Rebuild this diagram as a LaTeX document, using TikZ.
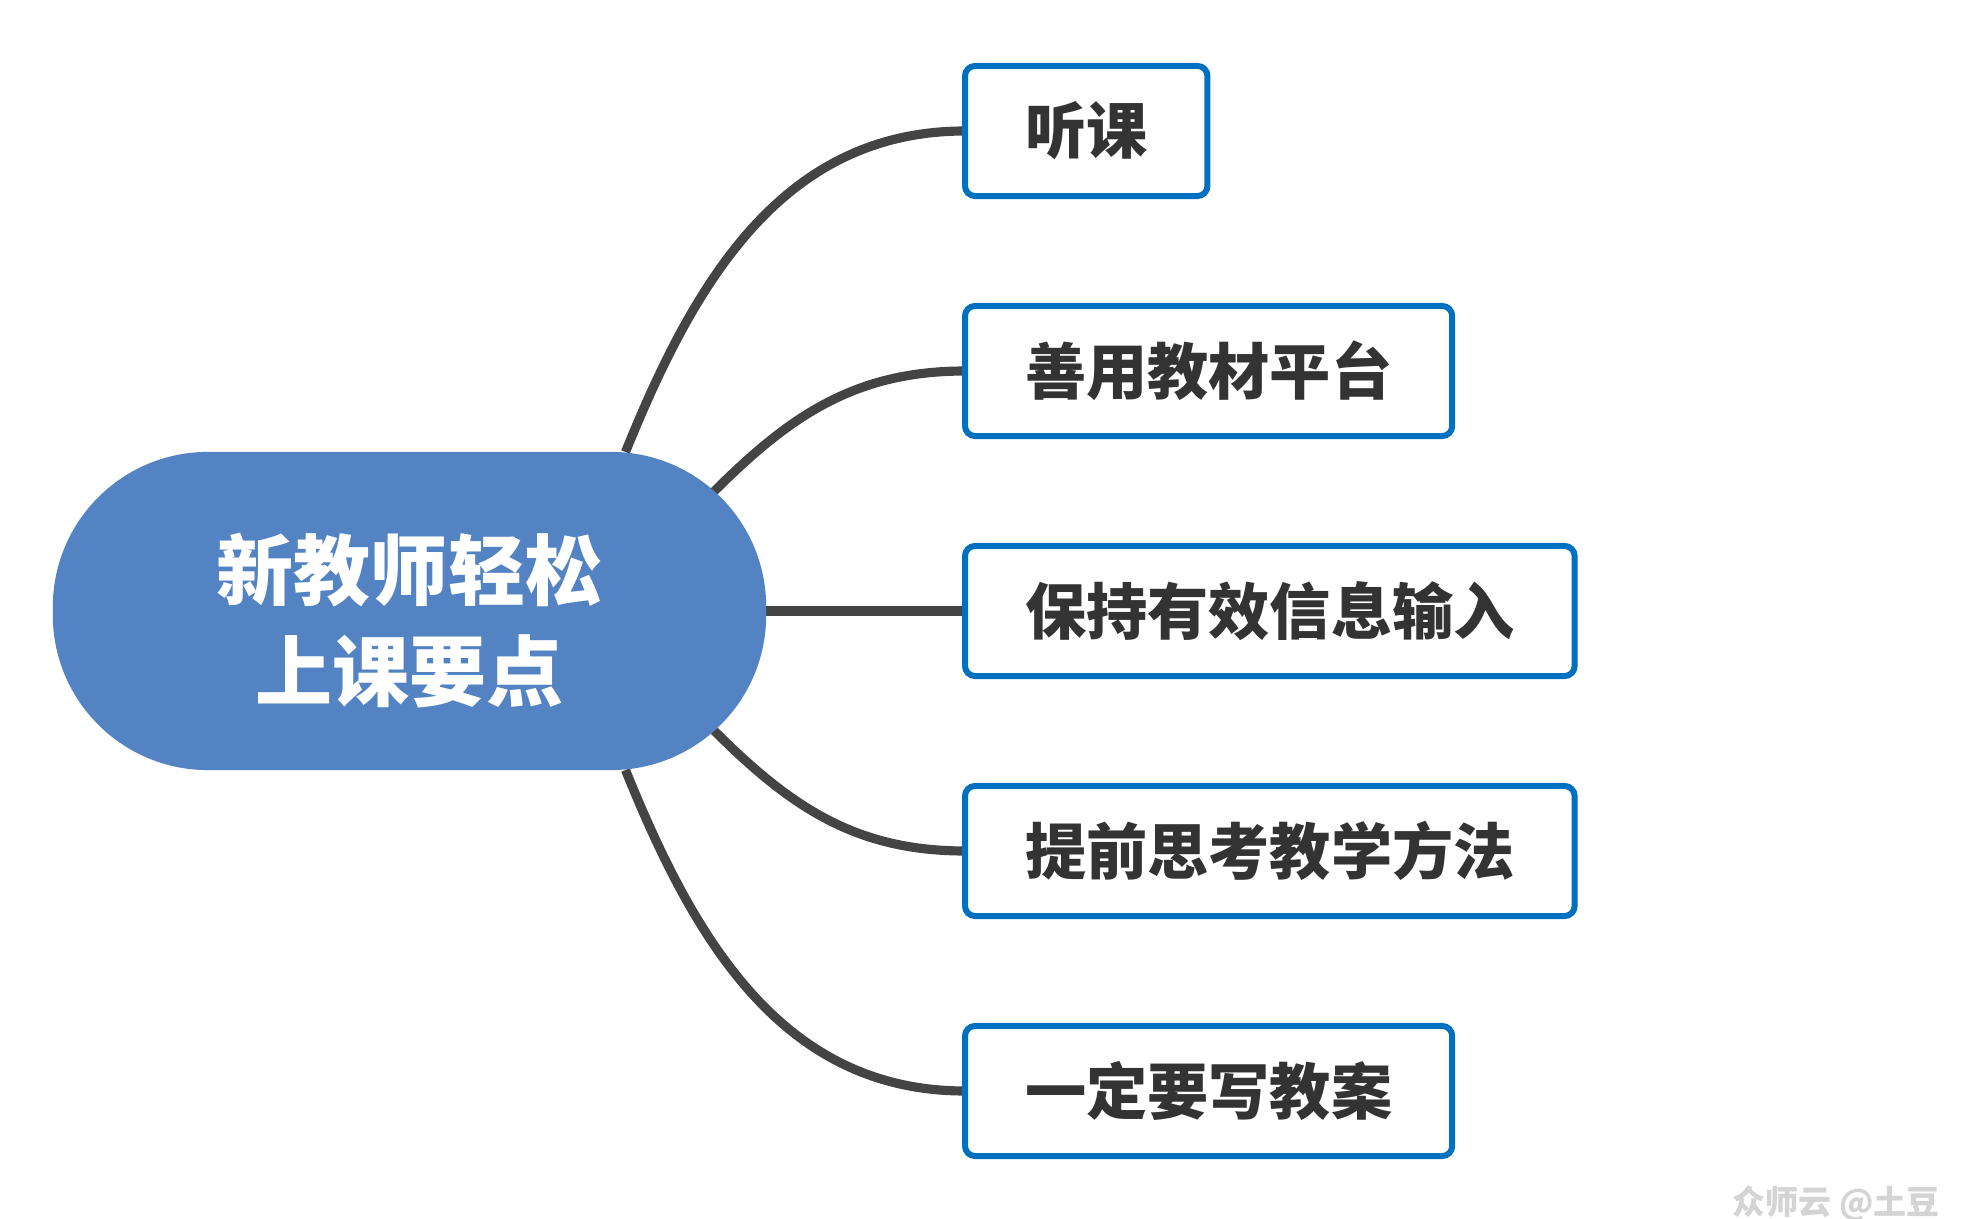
\documentclass[tikz,border=0pt]{standalone}
\usepackage{fontspec}
\newfontfamily\cjk{Noto Sans CJK SC}
\usepackage{tikz}
\usetikzlibrary{calc}
\usetikzlibrary{backgrounds}
\definecolor{hubblue}{RGB}{83,131,195}
\definecolor{boxblue}{RGB}{0,112,192}
\definecolor{linkgray}{RGB}{68,68,68}
\definecolor{textgray}{RGB}{51,51,51}
\definecolor{markgray}{RGB}{212,212,212}

\begin{document}
\begin{tikzpicture}[x=0.01cm, y=0.01cm,
  hub/.style={rectangle, rounded corners=1.55cm, fill=hubblue, text=white,
    minimum width=7.13cm, minimum height=3.18cm, align=center, inner sep=0pt,
    outer sep=0pt, font=\cjk\bfseries\fontsize{21.9}{28.7}\selectfont},
  tip/.style={rectangle, draw=boxblue, line width=1.7pt, rounded corners=0.1cm,
    fill=white, minimum height=1.3cm, inner xsep=0.6cm, outer sep=0pt,
    anchor=west, text=textgray, font=\cjk\bfseries\fontsize{17.4}{20}\selectfont},
  link/.style={draw=linkgray, line width=2.6pt}]
  \useasboundingbox (0,0) rectangle (1979,-1219);
  %--- Central topic
  \node[hub] (hub) at (409.5,-611) {\rule{0pt}{0.86cm}新教师轻松\\上课要点};
  %--- Branches
  \node[tip] (listen)   at (965,-131)  {听课};
  \node[tip] (platform) at (965,-371)  {善用教材平台};
  \node[tip] (input)    at (965,-611)  {保持有效信息输入};
  \node[tip] (method)   at (965,-851)  {提前思考教学方法};
  \node[tip] (plan)     at (965,-1091) {一定要写教案};
  %--- Links
  \begin{scope}[on background layer]
    \draw[link] ($(hub.center)+(216,159)$)  to[out=68,in=180]  (listen.west);
    \draw[link] ($(hub.center)+(304,119)$)  to[out=45,in=180]  (platform.west);
    \draw[link] (hub.east) -- (input.west);
    \draw[link] ($(hub.center)+(304,-119)$) to[out=-45,in=180] (method.west);
    \draw[link] ($(hub.center)+(216,-159)$) to[out=-68,in=180] (plan.west);
  \end{scope}
  %--- Watermark
  \node[anchor=west, text=markgray, inner sep=0pt,
    font=\cjk\bfseries\fontsize{9.4}{11}\selectfont] (mark) at (1732,-1203) {众师云 @土豆};
\end{tikzpicture}
\end{document}
